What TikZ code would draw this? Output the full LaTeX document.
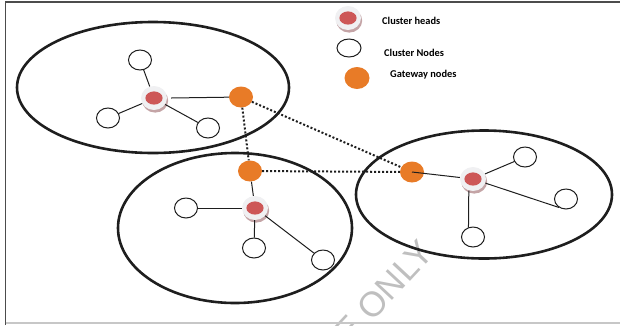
\documentclass[tikz,border=0pt]{standalone}
\usepackage{fontspec}
\newfontfamily\legendfont{Carlito}
\newfontfamily\markfont{Liberation Sans}
\usetikzlibrary{shapes.geometric,shadows}

\definecolor{headred}{HTML}{CD5757}
\definecolor{headdisc}{HTML}{F0F0F2}
\definecolor{headshadow}{HTML}{C4A4A6}
\definecolor{gateorange}{HTML}{E87B27}
\definecolor{ringblack}{HTML}{1E1E1E}

\tikzset{
  cluster/.style={draw=ringblack, line width=2.6pt},
  cnode/.style={ellipse, draw=ringblack, line width=1pt, fill=white,
    minimum width=23pt, minimum height=20pt, inner sep=0pt},
  gnode/.style={ellipse, fill=gateorange, minimum width=24pt,
    minimum height=21pt, inner sep=0pt},
  headnode/.style={ellipse, fill=headdisc, minimum width=26pt,
    minimum height=24pt, inner sep=0pt,
    drop shadow={shadow xshift=1.2pt, shadow yshift=-2.6pt,
      fill=headshadow, opacity=1},
    path picture={\fill[headred] (path picture bounding box.center)
      ellipse (8.6pt and 6.6pt);}},
  link/.style={draw=ringblack, line width=1pt},
  relay/.style={draw=ringblack, line width=2pt, dash pattern=on 2pt off 2pt},
  legendtext/.style={anchor=west, inner sep=0pt,
    font=\legendfont\bfseries\fontsize{10.4}{11}\selectfont},
}

\begin{document}
\begin{tikzpicture}[x=1pt, y=-1pt]
\useasboundingbox (0,0) rectangle (620,325);
\clip (0,0) rectangle (620,325);

% watermark
\node[font=\markfont\fontsize{35}{35}\selectfont, text=black!25,
  rotate=47, anchor=east, inner sep=0pt] (wm) at (427,246) {USE ONLY};

% frame
\draw[line width=1.8pt, draw=black!70] (5.5,325) -- (5.5,2) -- (620,2);
\draw[line width=1.2pt, draw=black!22] (5.5,323) -- (620,323);

% clusters
\draw[cluster] (153,87.5) ellipse (136pt and 65.5pt);
\draw[cluster] (235,228) ellipse (117pt and 75pt);
\draw[cluster] (484,194.5) ellipse (128pt and 64pt);

% cluster 1
\node[headnode] (h1) at (154,98) {};
\node[cnode] (a1) at (140,60) {};
\node[cnode] (a2) at (108,118) {};
\node[cnode] (a3) at (208,128) {};
\node[gnode] (g1) at (241,97) {};

% cluster 2
\node[headnode] (h2) at (255,208) {};
\node[cnode] (b1) at (186,208) {};
\node[cnode] (b2) at (254,248) {};
\node[cnode] (b3) at (323,260) {};
\node[gnode] (g2) at (250,171) {};

% cluster 3
\node[headnode] (h3) at (473,179) {};
\node[cnode] (c1) at (525,157) {};
\node[cnode] (c2) at (566,199) {};
\node[cnode] (c3) at (473,237) {};
\node[gnode] (g3) at (412,172) {};

% members to heads
\draw[link] (h1) -- (a1);
\draw[link] (h1.205) -- (a2);
\draw[link] (h1.330) -- (a3);
\draw[link] (h1.east) ++(4pt,0) -- (g1);
\draw[link] (g2) -- (h2);
\draw[link] (h2) -- (b1);
\draw[link] (h2) -- (b2);
\draw[link] (h2) -- (b3);
\draw[link] (g3.center) -- (h3);
\draw[link] (h3) -- (c1);
\draw[link] (h3) -- (c2.230);
\draw[link] (h3.250) -- (c3.115);

% gateway relays
\draw[relay] (g1) -- (g2);
\draw[relay] (g1) -- (g3);
\draw[relay] (g2) -- (g3);

% legend
\node[headnode] (lh) at (348,18) {};
\node[legendtext] (lht) at (382,21) {Cluster heads};
\node[cnode, minimum width=24pt, minimum height=18pt] (ln) at (349,48) {};
\begin{scope}
  \clip (370,40) rectangle (470,55.5);
  \node[legendtext] (lnt) at (384,52.5) {Cluster Nodes};
\end{scope}
\node[gnode, minimum width=25pt, minimum height=22pt] (lg) at (357,78) {};
\node[legendtext] (lgt) at (390,75) {Gateway nodes};
\end{tikzpicture}
\end{document}
